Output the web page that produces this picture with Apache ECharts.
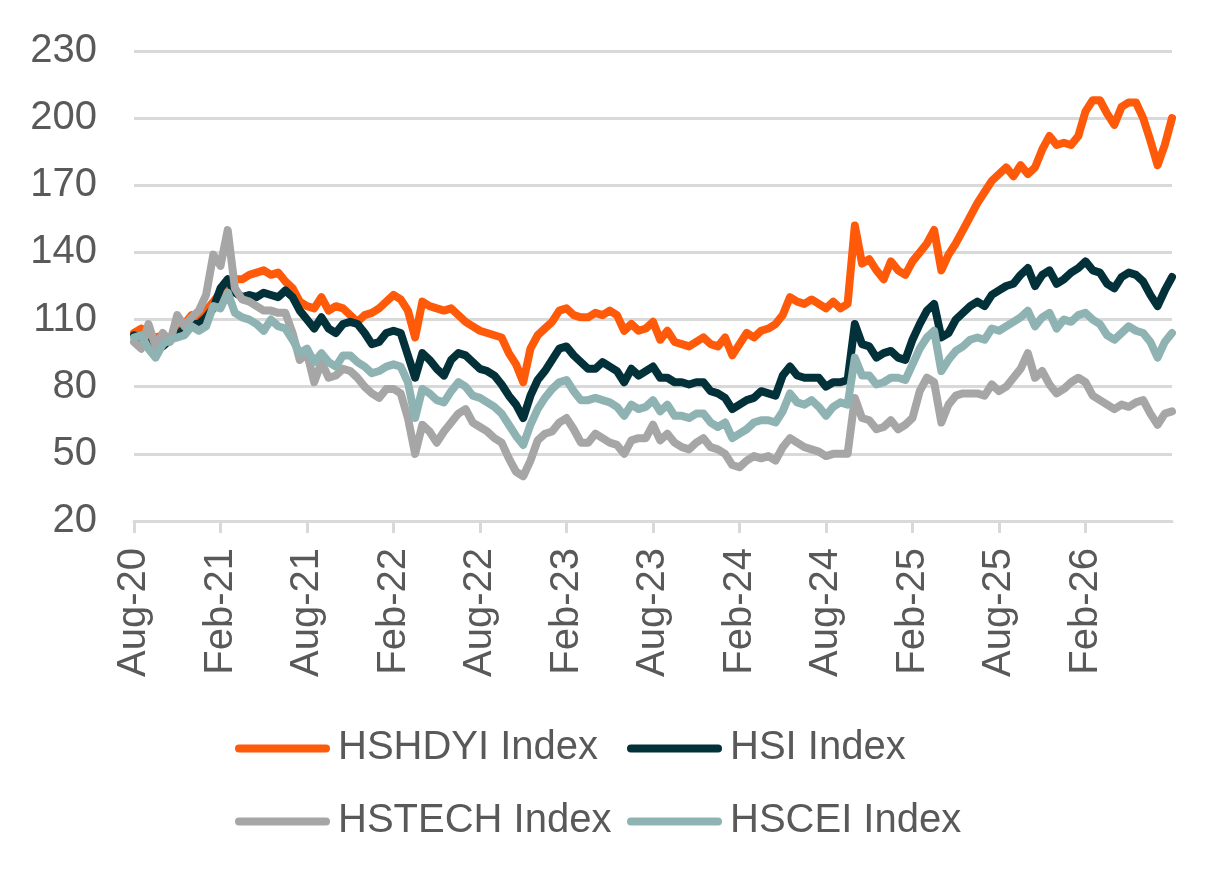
<html>
<head>
    <title>Hang Seng indices, rebased</title>
    <style>
        * {
            margin: 0;
            padding: 0;
        }
        #chart-container {
            position: relative;
            width: 1222px;
            height: 876px;
            overflow: hidden;
            background: #ffffff;
        }
    </style>
</head>
<body>
<div id="chart-container"></div>
<script src="https://cdn.jsdelivr.net/npm/echarts@6.0.0/dist/echarts.min.js"></script>
<script>
    // one entry per month, each month gets two points (start / mid), last month only one
    const months = [
        'Aug-20', 'Sep-20', 'Oct-20', 'Nov-20', 'Dec-20',
        'Jan-21', 'Feb-21', 'Mar-21', 'Apr-21', 'May-21', 'Jun-21', 'Jul-21', 'Aug-21', 'Sep-21', 'Oct-21', 'Nov-21', 'Dec-21',
        'Jan-22', 'Feb-22', 'Mar-22', 'Apr-22', 'May-22', 'Jun-22', 'Jul-22', 'Aug-22', 'Sep-22', 'Oct-22', 'Nov-22', 'Dec-22',
        'Jan-23', 'Feb-23', 'Mar-23', 'Apr-23', 'May-23', 'Jun-23', 'Jul-23', 'Aug-23', 'Sep-23', 'Oct-23', 'Nov-23', 'Dec-23',
        'Jan-24', 'Feb-24', 'Mar-24', 'Apr-24', 'May-24', 'Jun-24', 'Jul-24', 'Aug-24', 'Sep-24', 'Oct-24', 'Nov-24', 'Dec-24',
        'Jan-25', 'Feb-25', 'Mar-25', 'Apr-25', 'May-25', 'Jun-25', 'Jul-25', 'Aug-25', 'Sep-25', 'Oct-25', 'Nov-25', 'Dec-25',
        'Jan-26', 'Feb-26', 'Mar-26', 'Apr-26', 'May-26', 'Jun-26', 'Jul-26', 'Aug-26'
    ];
    const tickLabels = ['Aug-20', 'Feb-21', 'Aug-21', 'Feb-22', 'Aug-22', 'Feb-23', 'Aug-23', 'Feb-24', 'Aug-24', 'Feb-25', 'Aug-25', 'Feb-26'];
    const yMin = 20, yMax = 230, yStep = 30;

    const hshdyi = [
        104, 106, 103, 102, 103, 101, 103, 108, 112, 110, 114, 118, 122, 125, 128, 128, 130, 131, 132, 130,
        131, 127, 124, 118, 116, 115, 120, 114, 116, 115, 112, 109, 112, 113, 115, 118, 121, 119, 114, 102,
        118, 116, 115, 114, 115, 112, 109, 107, 105, 104, 103, 102, 95, 90, 82, 97, 103, 106, 109, 114,
        115, 112, 111, 111, 113, 112, 114, 112, 105, 108, 105, 106, 109, 101, 105, 100, 99, 98, 100, 102,
        99, 98, 102, 94, 99, 104, 102, 105, 106, 108, 112, 120, 118, 117, 119, 117, 115, 118, 115, 117,
        152, 135, 137, 132, 128, 136, 132, 130, 136, 140, 144, 150, 132, 139, 144, 150, 156, 162, 167, 172,
        175, 178, 174, 179, 175, 178, 186, 192, 188, 189, 188, 192, 203, 208, 208, 202, 197, 205, 207, 207,
        200, 190, 179, 188, 200
    ];
    const hsi = [
        103, 102, 99, 97, 98, 101, 103, 106, 108, 108, 111, 115, 124, 128, 122, 120, 121, 120, 122, 121,
        120, 123, 120, 114, 110, 106, 111, 106, 104, 108, 109, 108, 104, 99, 100, 104, 105, 104, 94, 84,
        95, 92, 88, 85, 92, 95, 94, 91, 88, 87, 85, 81, 76, 72, 66, 76, 83, 87, 92, 97,
        98, 94, 91, 88, 88, 91, 89, 87, 82, 88, 85, 87, 89, 84, 84, 82, 82, 81, 82, 82,
        78, 77, 75, 70, 72, 74, 75, 78, 77, 76, 85, 89, 85, 84, 84, 84, 80, 82, 82, 83,
        108, 99, 98, 93, 95, 96, 93, 92, 101, 108, 114, 117, 102, 104, 110, 113, 116, 118, 116, 121,
        123, 125, 126, 130, 133, 125, 130, 132, 126, 128, 131, 133, 136, 132, 131, 126, 124, 129, 131, 130,
        127, 121, 116, 123, 129
    ];
    const hstech = [
        100, 97, 108, 98, 104, 100, 112, 107, 111, 114, 121, 139, 134, 150, 124, 119, 118, 116, 114, 114,
        113, 113, 104, 92, 95, 82, 91, 84, 85, 88, 87, 84, 80, 77, 75, 79, 79, 77, 66, 50,
        63, 60, 55, 60, 64, 68, 70, 64, 62, 60, 57, 55, 48, 42, 40, 47, 56, 59, 60, 64,
        66, 61, 55, 55, 59, 57, 55, 54, 50, 56, 57, 57, 63, 56, 59, 55, 53, 52, 55, 57,
        53, 52, 50, 45, 44, 47, 49, 48, 49, 47, 53, 57, 55, 53, 52, 51, 49, 50, 50, 50,
        75, 66, 65, 61, 62, 65, 61, 63, 66, 78, 84, 82, 64, 72, 76, 77, 77, 77, 76, 81,
        78, 80, 84, 88, 95, 84, 87, 81, 77, 79, 82, 84, 82, 76, 74, 72, 70, 72, 71, 73,
        74, 68, 63, 68, 69
    ];
    const hscei = [
        102, 103, 97, 93, 99, 101, 102, 103, 107, 105, 107, 116, 115, 122, 113, 111, 110, 108, 105, 110,
        107, 106, 101, 95, 97, 91, 95, 91, 89, 94, 94, 91, 89, 86, 87, 89, 90, 89, 82, 66,
        79, 77, 74, 73, 78, 82, 80, 76, 75, 73, 71, 68, 63, 58, 54, 63, 70, 75, 79, 82,
        83, 78, 74, 74, 75, 74, 73, 71, 67, 72, 70, 71, 74, 69, 72, 67, 67, 66, 68, 68,
        64, 62, 64, 57, 59, 61, 64, 65, 65, 64, 69, 77, 73, 72, 74, 71, 67, 71, 73, 72,
        93, 85, 85, 81, 82, 84, 84, 83, 90, 97, 102, 105, 87, 92, 96, 98, 101, 102, 101, 106,
        105, 107, 109, 111, 114, 107, 111, 113, 106, 110, 109, 112, 113, 110, 108, 103, 101, 104, 107, 105,
        104, 100, 93, 100, 104
    ];

    const categories = [];
    months.forEach(function (m, k) {
        categories.push(m);
        if (k < months.length - 1) categories.push(m + ' mid');
    });

    const FONT = "'Liberation Sans', Arial, sans-serif";
    const TEXT = '#595959';
    const GRID = '#D9D9D9';
    const legendIcon = 'path://M4,0L91,0A4,4,0,0,1,91,8L4,8A4,4,0,0,1,4,0Z';

    function showTick(index) {
        return index % 12 === 0 && tickLabels.indexOf(categories[index]) >= 0;
    }

    function lineSeries(name, data, color) {
        return {
            name: name,
            type: 'line',
            data: data,
            symbol: 'none',
            smooth: false,
            lineStyle: { color: color, width: 8, cap: 'round', join: 'round' },
            itemStyle: { color: color }
        };
    }

    function legendAt(name, left, top) {
        return {
            data: [name],
            left: left,
            top: top,
            icon: legendIcon,
            itemWidth: 95,
            itemHeight: 8,
            textStyle: { fontFamily: FONT, fontSize: 40, color: TEXT, padding: [0, 0, 0, 3] }
        };
    }

    var yLabel = { margin: 37, fontFamily: FONT, fontSize: 40, color: TEXT };

    var dom = document.getElementById('chart-container');
    var myChart = echarts.init(dom, null, { renderer: 'canvas' });

    var option = {
        animation: false,
        backgroundColor: '#ffffff',
        grid: { left: 134, top: 51, width: 1038, height: 470, containLabel: false },
        legend: [
            legendAt('HSHDYI Index', 230, 709),
            legendAt('HSI Index', 622, 709),
            legendAt('HSTECH Index', 230, 782),
            legendAt('HSCEI Index', 622, 782)
        ],
        xAxis: {
            type: 'category',
            data: categories,
            boundaryGap: false,
            axisLine: { show: true, lineStyle: { color: GRID, width: 3 } },
            axisTick: { show: true, interval: showTick, length: 12, lineStyle: { color: GRID, width: 3 } },
            axisLabel: {
                interval: showTick,
                rotate: 90,
                margin: 27,
                fontFamily: FONT,
                fontSize: 40,
                color: TEXT
            },
            splitLine: { show: false }
        },
        yAxis: [
            {
                type: 'value',
                min: yMin,
                max: yMax,
                interval: yStep,
                axisLine: { show: false },
                axisTick: { show: false },
                axisLabel: Object.assign({}, yLabel),
                splitLine: { show: true, lineStyle: { color: GRID, width: 3 } }
            },
            {
                // second copy of the scale only to print the two end labels
                type: 'value',
                position: 'left',
                min: yMin,
                max: yMax,
                interval: yStep,
                axisLine: { show: false },
                axisTick: { show: false },
                splitLine: { show: false },
                axisLabel: Object.assign({}, yLabel, {
                    showMinLabel: true,
                    showMaxLabel: true,
                    formatter: function (v) {
                        return (v === yMin || v === yMax) ? String(v) : '';
                    }
                })
            }
        ],
        series: [
            lineSeries('HSHDYI Index', hshdyi, '#FF5A0A'),
            lineSeries('HSI Index', hsi, '#02313A'),
            lineSeries('HSTECH Index', hstech, '#A6A6A6'),
            lineSeries('HSCEI Index', hscei, '#8FB3B3')
        ]
    };

    myChart.setOption(option);
    window.addEventListener('resize', myChart.resize);
</script>
</body>
</html>
